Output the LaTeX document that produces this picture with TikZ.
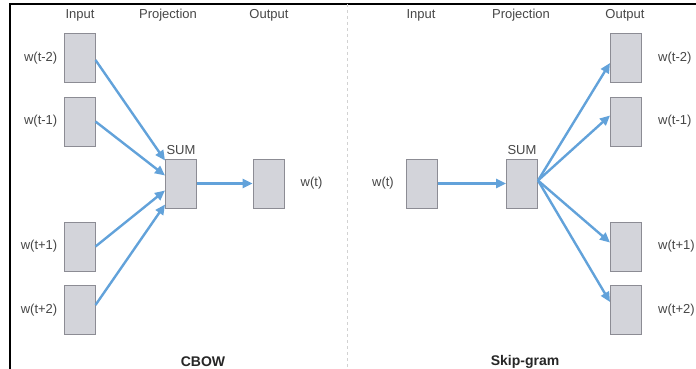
\documentclass[tikz,border=0pt]{standalone}
\usepackage{fontspec}
\setmainfont{Liberation Sans}
\usetikzlibrary{arrows.meta,positioning}
\definecolor{boxgray}{RGB}{211,212,218}
\definecolor{boxline}{RGB}{140,140,148}
\definecolor{linkblue}{RGB}{98,162,218}
\definecolor{txtgray}{RGB}{70,70,70}
\tikzset{
	unit/.style={draw=boxline, fill=boxgray, line width=1pt, minimum width=31pt, minimum height=49pt, inner sep=0pt},
	link/.style={draw=linkblue, line width=2.4pt, -{Triangle[length=10pt,width=9pt]}},
	lbl/.style={text=txtgray, font=\fontsize{13}{15}\selectfont, inner sep=1pt},
	ttl/.style={text=black!85, font=\fontsize{14}{16}\selectfont\bfseries, inner sep=1pt}
}

\begin{document}
\begin{tikzpicture}[x=1pt,y=-1pt]
	\useasboundingbox (0,0) rectangle (696,369);
	\clip (0,0) rectangle (696,369);
	\draw[line width=1.5pt] (10,369) -- (10,4) -- (696,4);
	\draw[gray!35, dashed, line width=1pt] (347,4) -- (347,369);

	% CBOW
	\node[lbl] (c-hin) at (80,15) {Input};
	\node[lbl] (c-hproj) at (168,15) {Projection};
	\node[lbl] (c-hout) at (269,15) {Output};
	\node[unit] (c-in1) at (79.5,58) {};
	\node[unit] (c-in2) at (79.5,121.5) {};
	\node[unit] (c-in3) at (79.5,246.5) {};
	\node[unit] (c-in4) at (79.5,310) {};
	\node[unit] (c-sum) at (181,183.5) {};
	\node[unit] (c-out) at (268.5,183.5) {};
	\node[lbl, left=5pt of c-in1] (c-l1) {w(t-2)};
	\node[lbl, left=5pt of c-in2] (c-l2) {w(t-1)};
	\node[lbl, left=5pt of c-in3] (c-l3) {w(t+1)};
	\node[lbl, left=5pt of c-in4] (c-l4) {w(t+2)};
	\node[lbl, above=3pt of c-sum] (c-lsum) {SUM};
	\node[lbl, right=15pt of c-out] (c-lout) {w(t)};
	\node[ttl] (c-name) at (203,362) {CBOW};
	\draw[link] ([yshift=-2pt]c-in1.east) -- ([yshift=23pt]c-sum.west);
	\draw[link] (c-in2.east) -- ([yshift=8pt]c-sum.west);
	\draw[link] (c-in3.east) -- ([yshift=-7pt]c-sum.west);
	\draw[link] ([yshift=5pt]c-in4.east) -- ([yshift=-21pt]c-sum.west);
	\draw[link] (c-sum.east) -- (c-out.west);

	% Skip-gram
	\node[lbl] (s-hin) at (421,15) {Input};
	\node[lbl] (s-hproj) at (521,15) {Projection};
	\node[lbl] (s-hout) at (625,15) {Output};
	\node[unit] (s-in) at (422,183.5) {};
	\node[unit] (s-sum) at (522,183.5) {};
	\node[unit] (s-out1) at (626,58) {};
	\node[unit] (s-out2) at (626,121.5) {};
	\node[unit] (s-out3) at (626,246.5) {};
	\node[unit] (s-out4) at (626,310) {};
	\node[lbl, left=11pt of s-in] (s-lin) {w(t)};
	\node[lbl, above=3pt of s-sum] (s-lsum) {SUM};
	\node[lbl, right=15pt of s-out1] (s-l1) {w(t-2)};
	\node[lbl, right=15pt of s-out2] (s-l2) {w(t-1)};
	\node[lbl, right=15pt of s-out3] (s-l3) {w(t+1)};
	\node[lbl, right=15pt of s-out4] (s-l4) {w(t+2)};
	\node[ttl] (s-name) at (525,362) {Skip-gram};
	\coordinate (s-fan) at ([yshift=3pt]s-sum.east);
	\draw[link] (s-in.east) -- (s-sum.west);
	\draw[link] (s-fan) -- ([yshift=-5pt]s-out1.west);
	\draw[link] (s-fan) -- ([yshift=6pt]s-out2.west);
	\draw[link] (s-fan) -- ([yshift=4pt]s-out3.west);
	\draw[link] (s-fan) -- ([yshift=8pt]s-out4.west);
\end{tikzpicture}
\end{document}
